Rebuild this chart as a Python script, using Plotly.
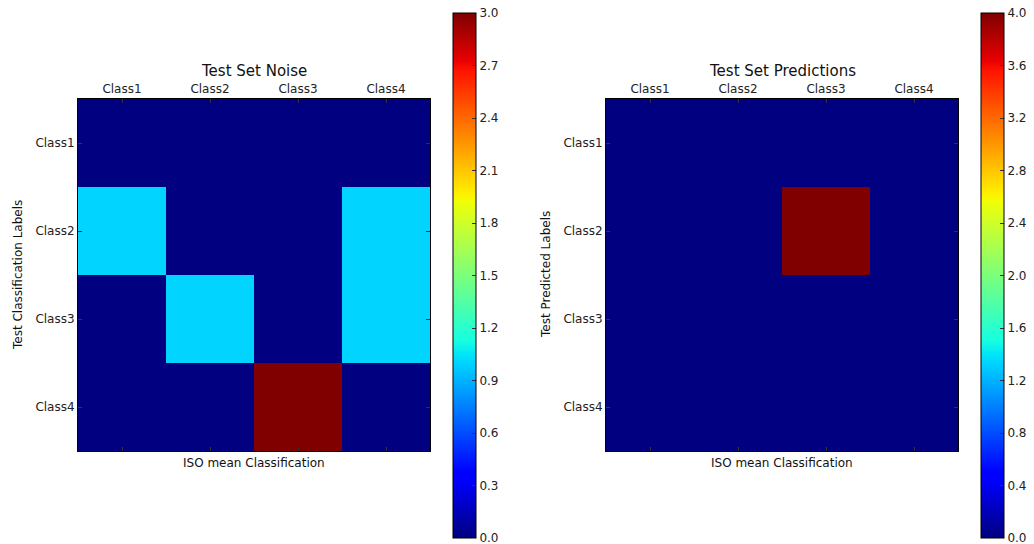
import numpy as np
import plotly.graph_objects as go

classes = ["Class1", "Class2", "Class3", "Class4"]

noise_values = [
    [0, 0, 0, 0],
    [1, 0, 0, 1],
    [0, 1, 0, 1],
    [0, 0, 3, 0],
]

prediction_values = [
    [0, 0, 0, 0],
    [0, 0, 4, 0],
    [0, 0, 0, 0],
    [0, 0, 0, 0],
]

noise_ticks = [0.0, 0.3, 0.6, 0.9, 1.2, 1.5, 1.8, 2.1, 2.4, 2.7, 3.0]
pred_ticks = [0.0, 0.4, 0.8, 1.2, 1.6, 2.0, 2.4, 2.8, 3.2, 3.6, 4.0]

# matplotlib-style "jet" colour map from its segment data
red = [(0, 0), (0.35, 0), (0.66, 1), (0.89, 1), (1, 0.5)]
green = [(0, 0), (0.125, 0), (0.375, 1), (0.64, 1), (0.91, 0), (1, 0)]
blue = [(0, 0.5), (0.11, 1), (0.34, 1), (0.65, 0), (1, 0)]
stops = sorted({p for seg in (red, green, blue) for p, _ in seg})


def chan(seg, t):
    xs, ys = zip(*seg)
    return float(np.interp(t, xs, ys))


jet = [[t, "rgb({},{},{})".format(round(255 * chan(red, t)),
                                    round(255 * chan(green, t)),
                                    round(255 * chan(blue, t)))] for t in stops]

W, H = 1034, 544


def px(x):
    return x / W


def py(y):
    return 1 - y / H


FONT = "DejaVu Sans"
fig = go.Figure()

panels = [
    dict(z=noise_values, ticks=noise_ticks, zmax=3, x0=78, x1=430, cb=453,
         title="Test Set Noise", ylabel="Test Classification Labels", ax=""),
    dict(z=prediction_values, ticks=pred_ticks, zmax=4, x0=606, x1=958, cb=981,
         title="Test Set Predictions", ylabel="Test Predicted Labels", ax="2"),
]

for p in panels:
    fig.add_trace(go.Heatmap(
        z=p["z"], x=classes, y=classes, zmin=0, zmax=p["zmax"],
        colorscale=jet, xaxis="x" + p["ax"], yaxis="y" + p["ax"],
        xgap=0, ygap=0, hoverinfo="z",
        colorbar=dict(
            x=px(p["cb"]), xanchor="left", xpad=0, ypad=0,
            y=py(538), yanchor="bottom", len=525, lenmode="pixels",
            thickness=23, thicknessmode="pixels",
            outlinecolor="black", outlinewidth=1,
            tickmode="array", tickvals=p["ticks"],
            ticktext=["{:.1f}".format(v) for v in p["ticks"]],
            ticklabeloverflow="allow",
            ticks="inside", ticklen=4, tickcolor="#333",
            tickfont=dict(family=FONT, size=12, color="#222"),
        ),
    ))
    axis_common = dict(showgrid=False, zeroline=False, showline=True,
                       linecolor="black", linewidth=1, mirror="ticks",
                       ticks="inside", ticklen=4, tickcolor="#333",
                       tickfont=dict(family=FONT, size=12, color="#222"))
    fig.layout["xaxis" + p["ax"]] = dict(
        domain=[px(p["x0"]), px(p["x1"])], anchor="y" + p["ax"],
        side="top", **axis_common)
    fig.layout["yaxis" + p["ax"]] = dict(
        domain=[py(451), py(99)], anchor="x" + p["ax"],
        autorange="reversed", **axis_common)
    cx = (p["x0"] + p["x1"]) / 2
    ann = dict(xref="paper", yref="paper", showarrow=False,
               xanchor="center", yanchor="middle")
    fig.add_annotation(x=px(cx), y=py(71), text=p["title"],
                       font=dict(family=FONT, size=15, color="#111"), **ann)
    fig.add_annotation(x=px(cx), y=py(463), text="ISO mean Classification",
                       font=dict(family=FONT, size=12, color="#111"), **ann)
    fig.add_annotation(x=px(p["x0"] - 60), y=py(275), text=p["ylabel"],
                       textangle=-90,
                       font=dict(family=FONT, size=12, color="#111"), **ann)

fig.update_layout(width=W, height=H, margin=dict(l=0, r=0, t=0, b=0),
                  paper_bgcolor="white", plot_bgcolor="white",
                  showlegend=False)

fig.write_html("out.html")
